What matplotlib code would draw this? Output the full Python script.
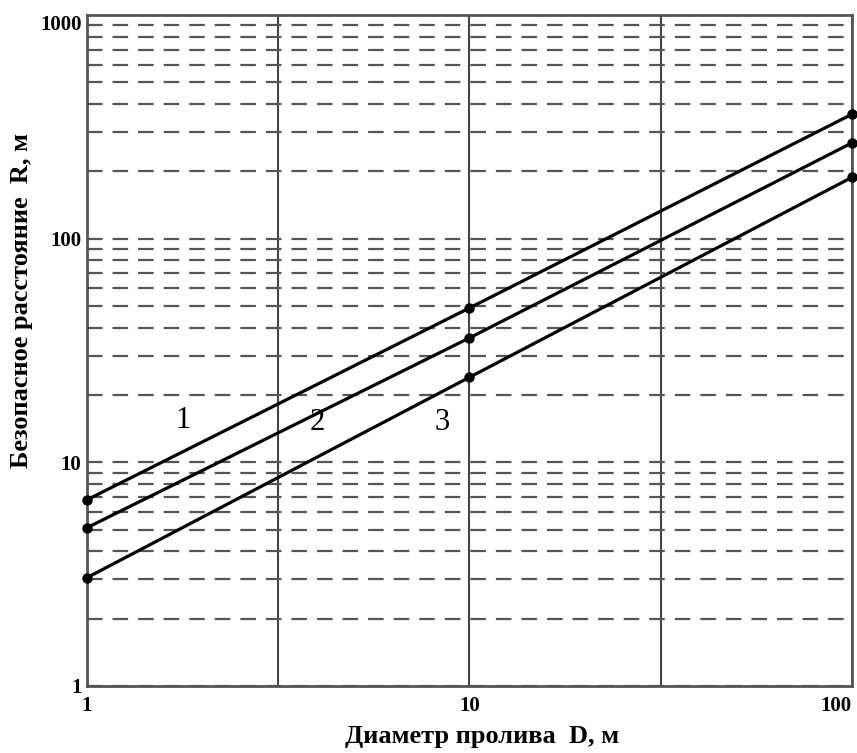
import matplotlib
matplotlib.use('Agg')
import matplotlib.pyplot as plt
from matplotlib.ticker import FixedLocator, FuncFormatter, NullFormatter

# data
D = [1, 10, 100]
R1 = [6.8, 49, 360]
R2 = [5.1, 36, 268]
R3 = [3.05, 24, 188]
curve_names = ['1', '2', '3']
name_x = [1.78, 4.0, 8.5]
name_y = [15.4, 15.1, 15.1]

y_major = [1, 10, 100, 1000]
y_minor = [m * 10**k for k in range(3) for m in range(2, 10)]
x_major = [1, 10, 100]
x_minor = [10**0.5, 10**1.5]

plt.rcParams['font.family'] = ['Liberation Serif', 'DejaVu Serif']

fig = plt.figure(figsize=(8.57, 7.53), dpi=100)
ax = fig.add_axes([0.1015, 0.089, 0.8925, 0.891])

ax.set_xscale('log')
ax.set_yscale('log')
ax.set_xlim(1, 100)
ax.set_ylim(1, 1000)

# grid: solid vertical, dashed horizontal
ax.xaxis.set_major_locator(FixedLocator(x_major))
ax.xaxis.set_minor_locator(FixedLocator(x_minor))
ax.xaxis.set_minor_formatter(NullFormatter())
ax.yaxis.set_major_locator(FixedLocator(y_major))
ax.yaxis.set_minor_locator(FixedLocator(y_minor))
ax.yaxis.set_minor_formatter(NullFormatter())
fmt = FuncFormatter(lambda v, p: '%d' % round(v))
ax.xaxis.set_major_formatter(fmt)
ax.yaxis.set_major_formatter(fmt)

ax.xaxis.grid(True, which='both', color='#444444', linewidth=1.5, linestyle='-')
ax.yaxis.grid(True, which='both', color='#555555', linewidth=1.6,
              linestyle=(0, (7, 4.5)))
ax.set_axisbelow(True)

for R in (R1, R2, R3):
    ax.plot(D, R, color='black', linewidth=2.3, marker='o', markersize=6.5,
            clip_on=False, zorder=3)

for name, tx, ty in zip(curve_names, name_x, name_y):
    ax.text(tx, ty, name, fontsize=22, ha='center', va='center')

for s in ax.spines.values():
    s.set_color('#555555')
    s.set_linewidth(2)

ax.tick_params(which='both', length=0)
ax.tick_params(axis='y', pad=4, labelsize=15)
ax.tick_params(axis='x', pad=7, labelsize=15)
for lab in ax.get_xticklabels() + ax.get_yticklabels():
    lab.set_fontweight('bold')
ax.get_xticklabels()[-1].set_horizontalalignment('right')
ax.get_yticklabels()[-1].set_verticalalignment('top')

ax.set_xlabel('Диаметр пролива  D, м', fontsize=19, fontweight='bold')
ax.set_ylabel('Безопасное расстояние  R, м', fontsize=19, fontweight='bold')
ax.xaxis.set_label_coords(0.516, -0.058)
ax.yaxis.set_label_coords(-0.07, 0.575)

fig.savefig('out.png', dpi=100)
